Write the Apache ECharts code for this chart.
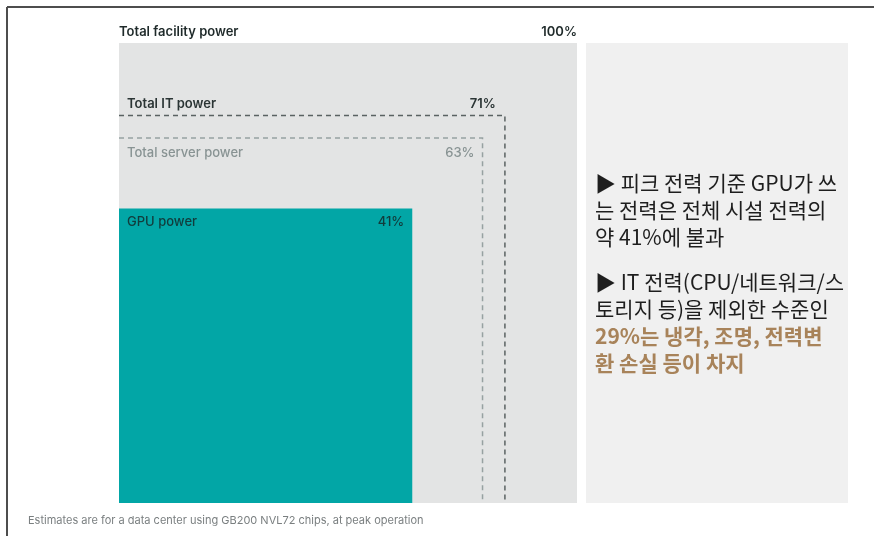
<!DOCTYPE html>
<html>
<head>
<meta charset="utf-8">
<script src="https://cdn.jsdelivr.net/npm/echarts@6/dist/echarts.min.js"></script>
<style>
  html, body { margin: 0; padding: 0; background: #ffffff; }
  #chart { width: 874px; height: 536px; }
</style>
</head>
<body>
<div id="chart"></div>
<script>
// Power breakdown of a data center at peak operation (share of total facility power)
const categories = ['Total facility power', 'Total IT power', 'Total server power', 'GPU power'];
const shares = [100, 71, 63, 41];
const footnote = 'Estimates are for a data center using GB200 NVL72 chips, at peak operation';

// Per-level drawing styles: filled box or dashed outline, label placement
const levelStyles = [
  { kind: 'fill', fill: '#e3e4e4', labelColor: '#1f2a2a', weight: 600, padL: 0, padR: 0, dy: -11 },
  { kind: 'dash', stroke: '#5a6262', labelColor: '#2b3535', weight: 600, padL: 8, padR: 9, dy: -11 },
  { kind: 'dash', stroke: '#97a1a1', labelColor: '#889393', weight: 500, padL: 8, padR: 8, dy: 15 },
  { kind: 'fill', fill: '#02a6a6', labelColor: '#123c3c', weight: 500, padL: 8, padR: 8, dy: 14 }
];

// Squares are area-proportional: side length = sqrt(share)
const seriesData = shares.map((s, i) => ({
  name: categories[i],
  value: [Math.sqrt(s / 100), Math.sqrt(s / 100), s]
}));

function renderItem(params, api) {
  const i = params.dataIndex;
  const st = levelStyles[i];
  const bl = api.coord([0, 0]);
  const tr = api.coord([api.value(0), api.value(1)]);
  const share = api.value(2);
  const children = [];
  if (st.kind === 'fill') {
    children.push({
      type: 'rect',
      shape: { x: bl[0], y: tr[1], width: tr[0] - bl[0], height: bl[1] - tr[1] },
      style: { fill: st.fill }
    });
  } else {
    children.push({
      type: 'polyline',
      shape: { points: [[bl[0], tr[1]], [tr[0], tr[1]], [tr[0], bl[1]]] },
      style: { fill: null, stroke: st.stroke, lineWidth: 1.5, lineDash: [5, 4] }
    });
  }
  const font = st.weight + ' 13px Inter, "Noto Sans", sans-serif';
  children.push({
    type: 'text',
    style: {
      text: categories[i], x: bl[0] + st.padL, y: tr[1] + st.dy,
      fill: st.labelColor, font: font, textAlign: 'left', textVerticalAlign: 'middle'
    }
  });
  children.push({
    type: 'text',
    style: {
      text: share + '%', x: tr[0] - st.padR, y: tr[1] + st.dy,
      fill: st.labelColor, font: font, textAlign: 'right', textVerticalAlign: 'middle'
    }
  });
  return { type: 'group', children: children };
}

const cjk = '"Noto Sans CJK KR", sans-serif';
const noteA = [
  '▶ 피크 전력 기준 GPU가 쓰',
  '는 전력은 전체 시설 전력의',
  '약 ' + shares[3] + '%에 불과'
].join('\n');
const noteB = [
  '▶ IT 전력(CPU/네트워크/스',
  '토리지 등)을 제외한 수준인',
  '{b|' + (shares[0] - shares[1]) + '%는 냉각, 조명, 전력변}',
  '{b|환 손실 등이 차지}'
].join('\n');

const chart = echarts.init(document.getElementById('chart'), null, { renderer: 'canvas' });
chart.setOption({
  animation: false,
  backgroundColor: '#ffffff',
  grid: { left: 119, right: 297, top: 43, bottom: 33 },
  xAxis: { type: 'value', min: 0, max: 1, show: false },
  yAxis: { type: 'value', min: 0, max: 1, show: false },
  series: [{
    type: 'custom',
    renderItem: renderItem,
    data: seriesData,
    clip: false
  }],
  graphic: [
    // frame lines
    { type: 'line', shape: { x1: 7, y1: 7, x2: 874, y2: 7 }, style: { stroke: '#4d4d4d', lineWidth: 2 } },
    { type: 'line', shape: { x1: 7, y1: 7, x2: 7, y2: 536 }, style: { stroke: '#4d4d4d', lineWidth: 2 } },
    // side note panel
    { type: 'rect', shape: { x: 586, y: 43, width: 262, height: 460 }, style: { fill: '#f0f0f0' }, z: -1 },
    {
      type: 'text', left: 595, top: 170,
      style: { text: noteA, font: '400 21px ' + cjk, fill: '#1e1e1e', lineHeight: 27 }
    },
    {
      type: 'text', left: 595, top: 269,
      style: {
        text: noteB, font: '400 21px ' + cjk, fill: '#1e1e1e', lineHeight: 27,
        rich: { b: { font: '600 21px ' + cjk, fill: '#a8835a', lineHeight: 27 } }
      }
    },
    {
      type: 'text', left: 28, top: 515,
      style: { text: footnote, font: '400 11px Inter, "Noto Sans", sans-serif', fill: '#7a7f80' }
    }
  ]
});
</script>
</body>
</html>
